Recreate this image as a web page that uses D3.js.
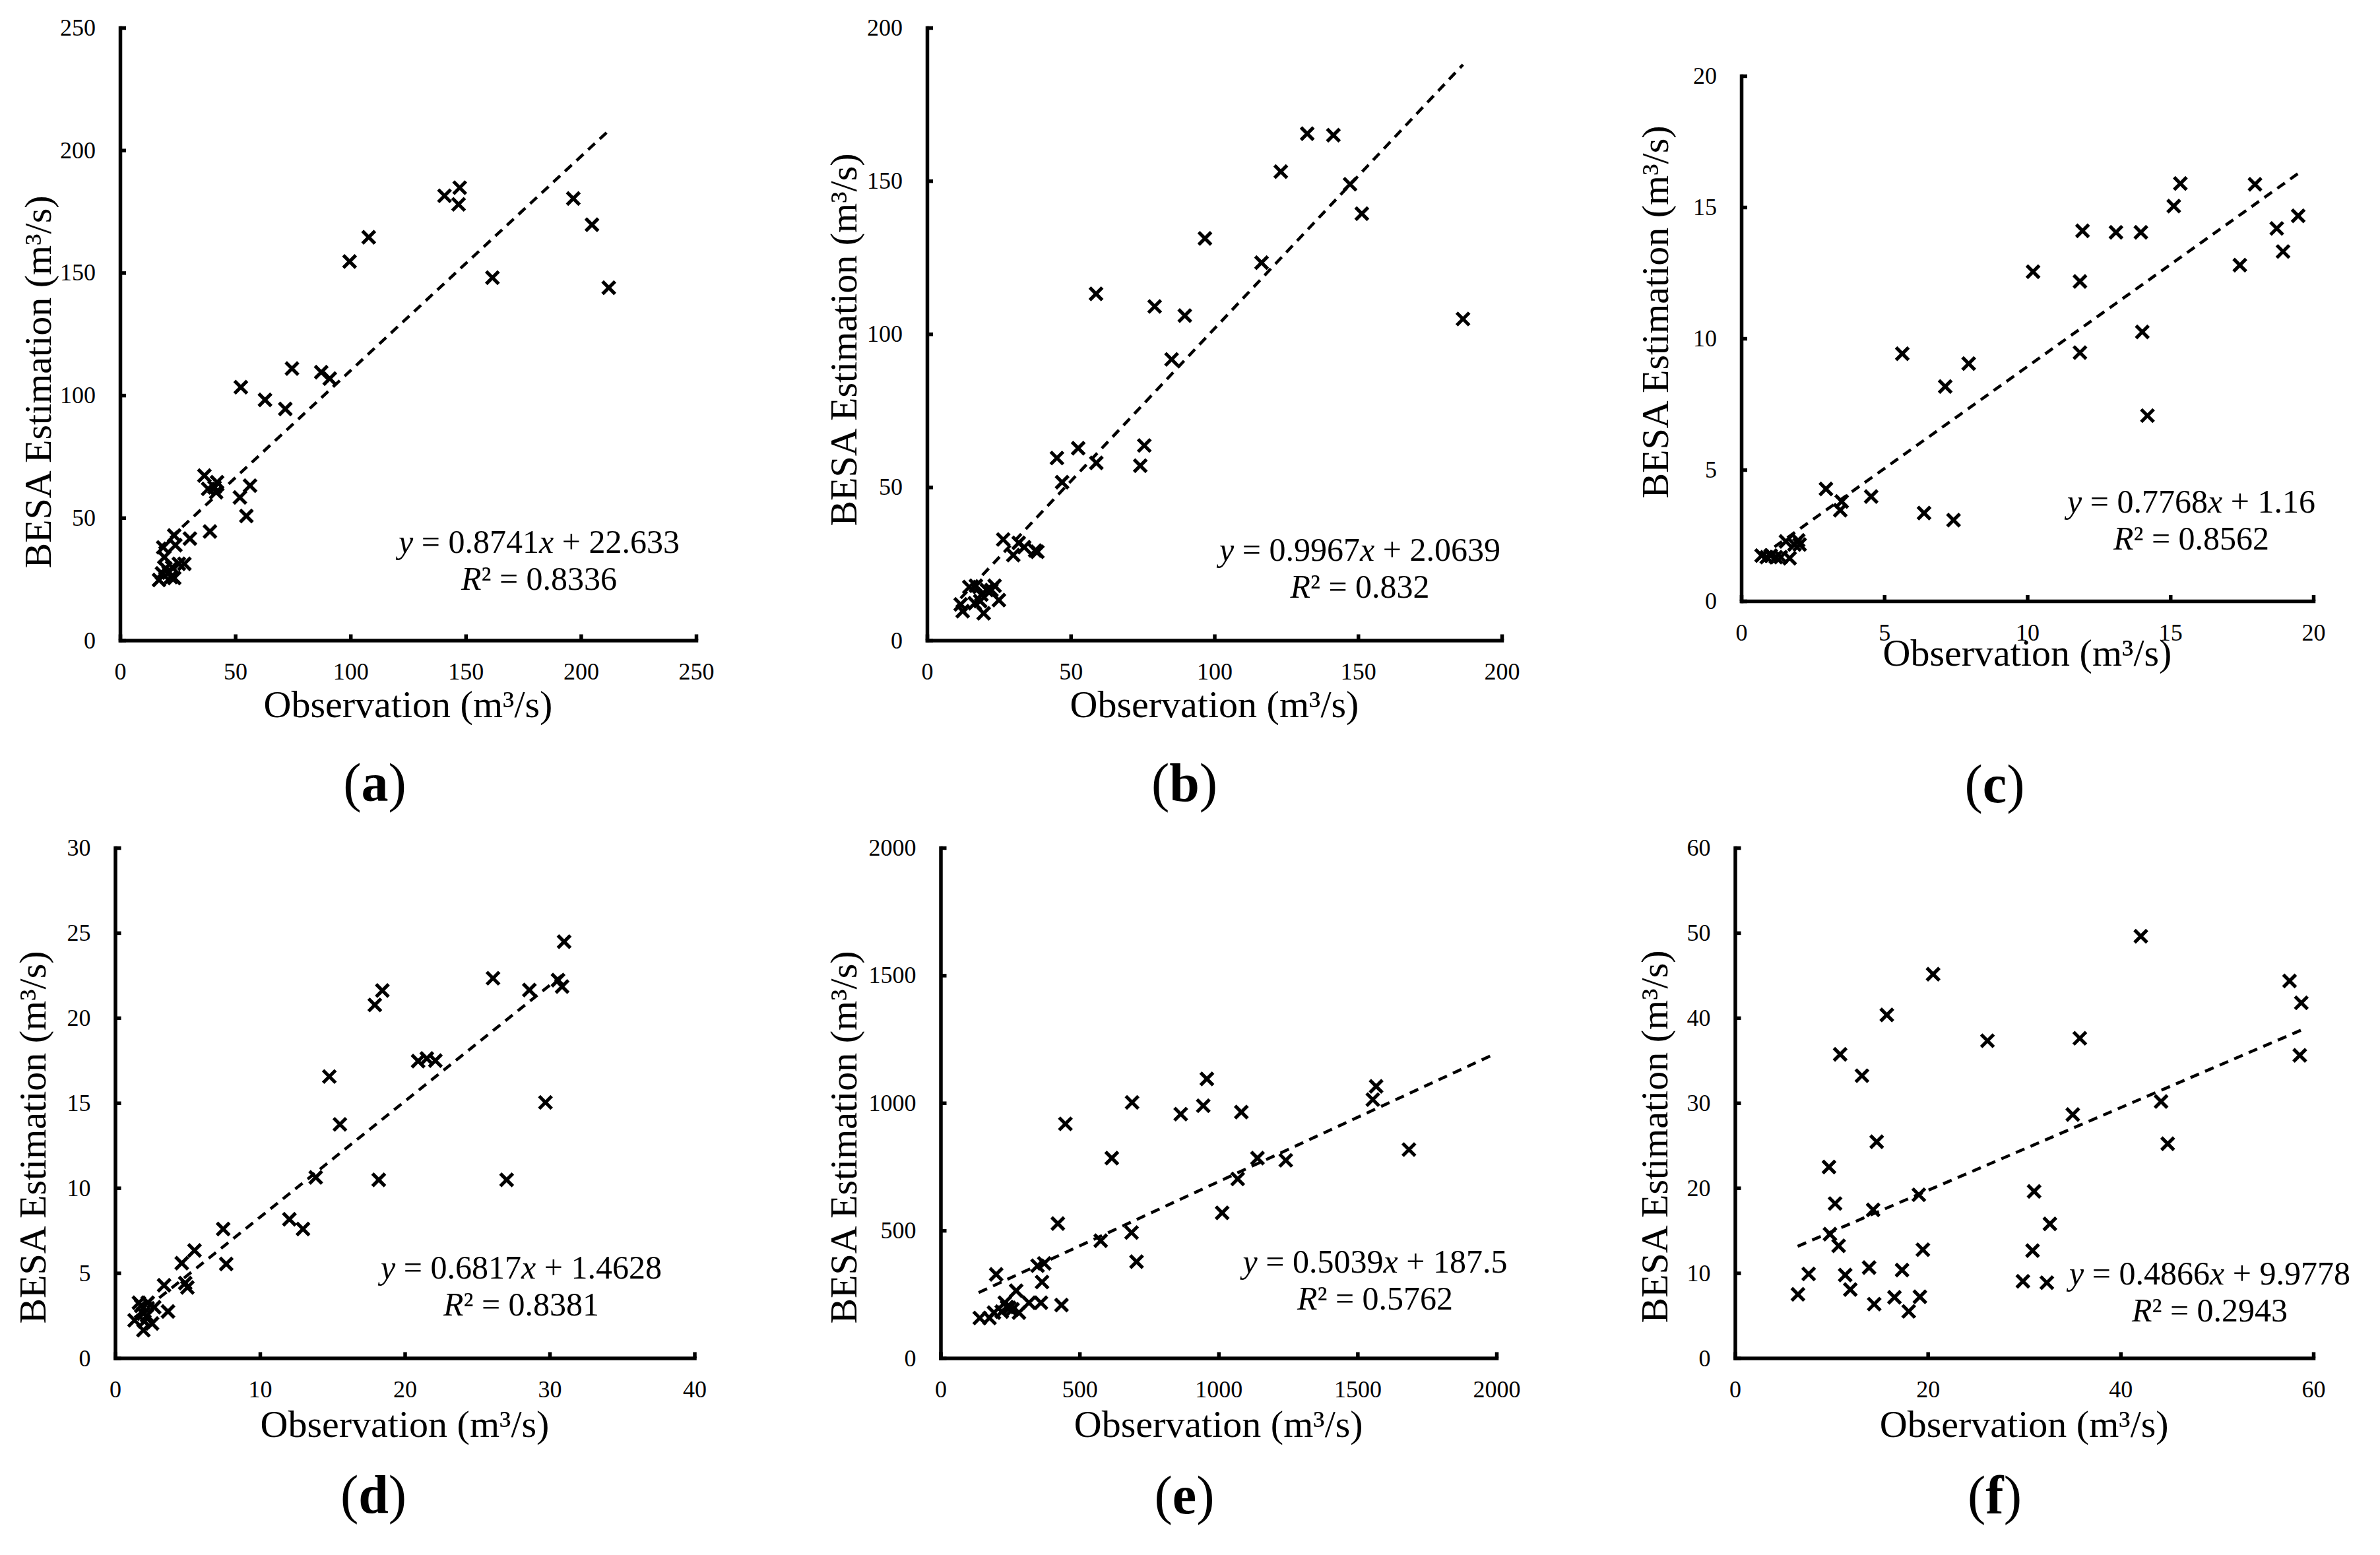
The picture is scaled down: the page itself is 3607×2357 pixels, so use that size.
<!DOCTYPE html>
<html>
<head>
<meta charset="utf-8">
<script src="https://cdn.jsdelivr.net/npm/d3@7"></script>
<style>
  body { margin: 0; background: #fff; }
  svg { display: block; }
  text { font-family: "Liberation Serif", "Times New Roman", serif; fill: #000; }
</style>
</head>
<body>
<svg id="chart" width="3607" height="2357"></svg>
<script>
// ---------------- DATA ----------------
const panelIds = ["a", "b", "c", "d", "e", "f"];

const obsA = [16.9,18.2,18.7,19.2,19.7,21.1,22.1,22.6,23.5,24.0,23.5,25.5,27.9,30.3,39.0,
  36.6,38.2,41.0,42.1,41.7,52.0,56.4,54.8,52.4,62.9,71.7,74.6,87.3,91.0,99.6,107.9,140.8,147.4,146.9,161.6,196.7,204.8,212.1];
const estA = [24.6,27.3,37.9,33.9,29.4,27.6,25.8,29.8,25.4,38.8,42.8,31.2,31.2,41.5,44.4,
  67.2,61.8,62.4,64.5,60.4,58.3,63.1,50.7,103.3,98.1,94.4,110.9,109.4,106.8,154.6,164.5,181.4,184.7,177.9,148.0,180.3,169.6,143.9];

const obsB = [11.7,12.4,14.7,16.6,17.0,18.5,18.9,19.7,20.8,22.4,23.5,25.0,26.5,30.0,31.9,33.8,37.6,38.4,
  45.2,47.0,52.6,58.9,58.8,74.2,75.6,79.2,85.1,89.7,96.7,116.4,123.1,132.3,141.4,147.2,151.3,186.5];
const estB = [11.7,9.5,17.4,12.1,17.8,12.8,14.9,8.8,16.4,16.4,17.8,13.1,32.9,27.8,31.8,30.4,29.3,28.9,
  59.5,51.6,62.7,57.9,113.1,57.0,63.6,109.0,91.7,106.0,131.2,123.3,153.0,165.4,164.9,148.9,139.3,104.9];

const obsC = [0.71,0.89,1.03,1.21,1.38,1.56,1.69,1.86,1.99,2.04,2.96,3.46,3.51,4.54,5.63,6.39,7.13,7.42,7.95,
  10.20,11.84,11.84,11.93,13.10,13.97,14.02,14.20,15.12,15.35,17.43,17.96,18.72,18.94,19.47];
const estC = [1.73,1.67,1.73,1.67,1.67,2.27,1.63,2.15,2.31,2.15,4.27,3.46,3.79,3.98,9.42,3.35,8.17,3.08,9.04,
  12.54,12.17,9.46,14.10,14.04,14.04,10.25,7.06,15.04,15.90,12.79,15.87,14.19,13.31,14.67];

const obsD = [1.34,1.64,1.80,1.95,1.95,2.02,2.25,2.55,2.70,2.20,3.65,3.38,4.84,4.99,
  4.60,5.48,7.46,7.67,12.03,12.97,13.85,14.79,15.52,17.93,18.45,18.20,20.92,21.52,22.11,26.09,27.03,28.60,29.71,30.58,30.86,31.00];
const estD = [2.22,3.25,3.07,2.61,1.64,2.16,3.25,2.03,2.99,2.50,2.74,4.28,4.41,4.15,
  5.58,6.33,7.59,5.53,8.16,7.59,10.62,16.55,13.74,20.76,21.61,10.48,17.46,17.61,17.49,22.33,10.48,21.64,15.03,22.22,21.84,24.48];

const obsE = [141,176,192,200,220,231,239,247,259,272,282,318,349,361,365,373,435,
  422,449,576,616,689,687,705,864,945,958,1013,1069,1082,1140,1242,1555,1567,1685];
const estE = [157,157,178,328,182,217,200,197,191,264,178,217,362,217,298,371,208,
  527,918,460,784,1002,492,378,956,989,1094,569,702,964,784,775,1013,1065,817];

const obsF = [6.53,7.64,9.75,9.85,10.38,10.75,10.91,11.43,11.96,13.17,13.91,14.33,14.44,14.70,15.75,16.54,17.33,18.02,
  19.07,19.18,19.49,20.55,26.19,29.87,30.87,31.03,32.35,32.67,35.04,35.77,42.10,44.20,44.89,57.53,58.75,58.59];
const estF = [7.49,9.89,22.46,14.57,18.17,13.20,35.71,9.77,8.06,33.20,10.63,17.43,6.34,25.43,40.34,7.14,10.34,5.49,
  19.20,7.20,12.74,45.14,37.31,9.03,12.63,19.60,8.86,15.77,28.63,37.60,49.60,30.17,25.20,44.34,41.77,35.60];

const xTicksA = [0,50,100,150,200,250],  yTicksA = [0,50,100,150,200,250];
const xTicksB = [0,50,100,150,200],      yTicksB = [0,50,100,150,200];
const xTicksC = [0,5,10,15,20],          yTicksC = [0,5,10,15,20];
const xTicksD = [0,10,20,30,40],         yTicksD = [0,5,10,15,20,25,30];
const xTicksE = [0,500,1000,1500,2000],  yTicksE = [0,500,1000,1500,2000];
const xTicksF = [0,20,40,60],            yTicksF = [0,10,20,30,40,50,60];

// trend line: slope, intercept (as printed), R², drawn x-range
const slopeText     = ["0.8741", "0.9967", "0.7768", "0.6817", "0.5039", "0.4866"];
const interceptText = ["22.633", "2.0639", "1.16",   "1.4628", "187.5",  "9.9778"];
const r2Text        = ["0.8336", "0.832",  "0.8562", "0.8381", "0.5762", "0.2943"];
const trendFrom     = [16.9, 11.7, 0.71, 1.34, 137, 6.5];
const trendTo       = [212.1, 186.5, 19.47, 31.0, 1990, 58.7];

const xTitle = "Observation (m³/s)";
const yTitle = "BESA Estimation (m³/s)";

// ---------------- LAYOUT ----------------
const layout = [
  { L: 182,    R: 1055,   T: 42,   B: 970.5,  ytc: 579,  ytb: 105.5, xtb: 116,   ann: [817, 838],    cap: [568, 1214] },
  { L: 1405,   R: 2276,   T: 42,   B: 970.5,  ytc: 515,  ytb: 107,   xtb: 116,   ann: [2061, 849.5], cap: [1795, 1214] },
  { L: 2639,   R: 3506,   T: 115,  B: 911,    ytc: 473,  ytb: 111.5, xtb: 98,    ann: [3321, 777],   cap: [3023, 1216] },
  { L: 174.5,  R: 1052.5, T: 1285, B: 2058.5, ytc: 1724, ytb: 105.5, xtb: 119.5, ann: [790, 1938],   cap: [566, 2293] },
  { L: 1425.5, R: 2268,   T: 1285, B: 2058.5, ytc: 1724, ytb: 128,   xtb: 119.5, ann: [2084, 1929],  cap: [1795, 2294] },
  { L: 2629.5, R: 3506,   T: 1285, B: 2058.5, ytc: 1723, ytb: 102.5, xtb: 119.5, ann: [3349, 1947],  cap: [3023, 2294] }
];

const obsAll = [obsA, obsB, obsC, obsD, obsE, obsF];
const estAll = [estA, estB, estC, estD, estE, estF];
const xTicksAll = [xTicksA, xTicksB, xTicksC, xTicksD, xTicksE, xTicksF];
const yTicksAll = [yTicksA, yTicksB, yTicksC, yTicksD, yTicksE, yTicksF];

const FONT = "Liberation Serif, Times New Roman, serif";
const svg = d3.select("#chart");
const AXIS_W = 5.5, TICK_FONT = 36, TITLE_FONT = 58, ANN_FONT = 50, CAP_FONT = 82;

panelIds.forEach((id, i) => {
  const lo = layout[i];
  const xt = xTicksAll[i], yt = yTicksAll[i];
  const x = d3.scaleLinear().domain([0, xt[xt.length - 1]]).range([lo.L, lo.R]);
  const y = d3.scaleLinear().domain([0, yt[yt.length - 1]]).range([lo.B, lo.T]);
  const g = svg.append("g").attr("class", "panel-" + id).attr("font-family", FONT);

  // axes
  const xAxis = d3.axisBottom(x).tickValues(xt).tickSizeInner(-9).tickSizeOuter(0).tickPadding(34).tickFormat(d3.format("d"));
  const yAxis = d3.axisLeft(y).tickValues(yt).tickSizeInner(-9).tickSizeOuter(0).tickPadding(37).tickFormat(d3.format("d"));
  const gx = g.append("g").attr("transform", `translate(0,${lo.B})`).call(xAxis);
  const gy = g.append("g").attr("transform", `translate(${lo.L},0)`).call(yAxis);
  [gx, gy].forEach(ax => {
    ax.attr("font-family", FONT);
    ax.select(".domain").attr("stroke", "#000").attr("stroke-width", AXIS_W).attr("stroke-linecap", "square");
    ax.selectAll(".tick line").attr("stroke", "#000").attr("stroke-width", AXIS_W);
    ax.selectAll(".tick text").attr("font-size", TICK_FONT).attr("font-family", FONT).attr("fill", "#000");
  });

  // trend line
  const m = +slopeText[i], b = +interceptText[i];
  const tl = [trendFrom[i], trendTo[i]].map(v => [v, m * v + b]);
  g.append("path")
    .attr("d", d3.line().x(d => x(d[0])).y(d => y(d[1]))(tl))
    .attr("fill", "none").attr("stroke", "#000").attr("stroke-width", 4.5)
    .attr("stroke-dasharray", "14,10");

  // markers
  const s = 9.5;
  g.append("g").selectAll("path").data(d3.zip(obsAll[i], estAll[i])).join("path")
    .attr("transform", d => `translate(${x(d[0])},${y(d[1])})`)
    .attr("d", `M${-s},${-s}L${s},${s}M${-s},${s}L${s},${-s}`)
    .attr("stroke", "#000").attr("stroke-width", 5.2).attr("fill", "none");

  // axis titles
  g.append("text").attr("x", (lo.L + lo.R) / 2).attr("y", lo.B + lo.xtb)
    .attr("text-anchor", "middle").attr("font-size", TITLE_FONT).text(xTitle);
  g.append("text").attr("transform", `translate(${lo.L - lo.ytb},${lo.ytc}) rotate(-90)`)
    .attr("text-anchor", "middle").attr("font-size", TITLE_FONT).text(yTitle);

  // equation annotation
  const t1 = g.append("text").attr("x", lo.ann[0]).attr("y", lo.ann[1])
    .attr("text-anchor", "middle").attr("font-size", ANN_FONT);
  t1.append("tspan").attr("font-style", "italic").text("y");
  t1.append("tspan").text(" = " + slopeText[i]);
  t1.append("tspan").attr("font-style", "italic").text("x");
  t1.append("tspan").text(" + " + interceptText[i]);
  const t2 = g.append("text").attr("x", lo.ann[0]).attr("y", lo.ann[1] + 56)
    .attr("text-anchor", "middle").attr("font-size", ANN_FONT);
  t2.append("tspan").attr("font-style", "italic").text("R");
  t2.append("tspan").text("² = " + r2Text[i]);

  // caption
  const c = g.append("text").attr("x", lo.cap[0]).attr("y", lo.cap[1])
    .attr("text-anchor", "middle").attr("font-size", CAP_FONT);
  c.append("tspan").text("(");
  c.append("tspan").attr("font-weight", "bold").text(id);
  c.append("tspan").text(")");
});
</script>
</body>
</html>
